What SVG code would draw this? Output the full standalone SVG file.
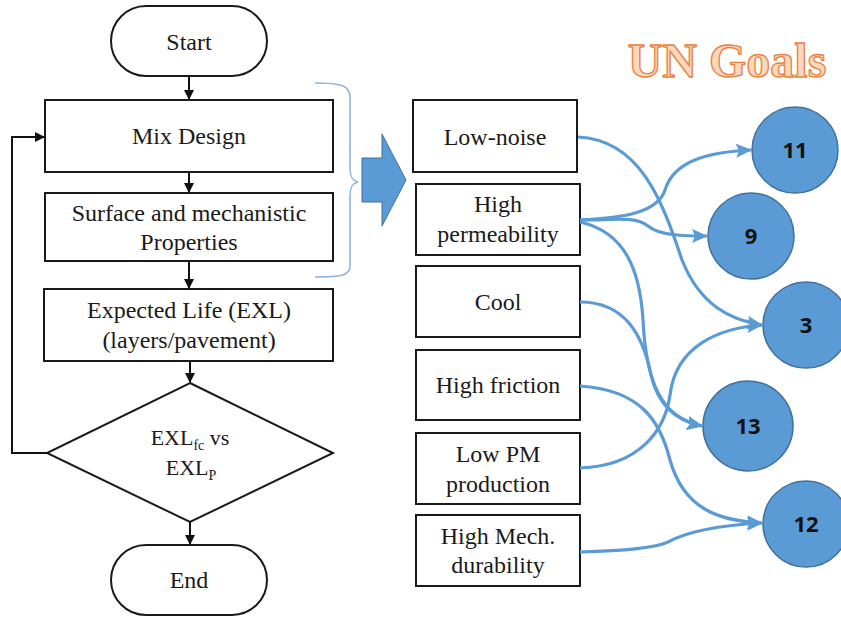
<svg xmlns="http://www.w3.org/2000/svg" width="841" height="617" viewBox="0 0 841 617">
<defs>
<style>
.box{fill:#fff;stroke:#1a1a1a;stroke-width:2}
.t{font-size:24px;fill:#1a1a1a;text-anchor:middle}
.d{font-size:22px;fill:#1a1a1a;text-anchor:middle}
.flow{fill:none;stroke:#111;stroke-width:2}
.blue{fill:none;stroke:#5b9bd5;stroke-width:3.2}
.goal{fill:#5b9bd5;stroke:#41719c;stroke-width:1.5}
.gt{font-weight:bold;font-size:22px;fill:#111;text-anchor:middle}
</style>
<marker id="ab" markerWidth="10" markerHeight="10" refX="9" refY="5" orient="auto" markerUnits="userSpaceOnUse">
<path d="M0,0 L10,5 L0,10 z" fill="#111"/>
</marker>
<marker id="bb" markerWidth="16" markerHeight="14" refX="15" refY="7" orient="auto" markerUnits="userSpaceOnUse">
<path d="M0,0 L16,7 L0,14 L3,7 z" fill="#5b9bd5"/>
</marker>
</defs>
<rect width="841" height="617" fill="#fff"/>

<g font-family="Liberation Serif, Times New Roman, serif">
<g id="start"><rect class="box" x="111" y="6" width="156" height="70" rx="35"/><text class="t" x="189" y="50">Start</text></g>
<g id="mix"><rect class="box" x="45" y="100" width="288" height="72"/><text class="t" x="189" y="144">Mix Design</text></g>
<g id="surface"><rect class="box" x="45" y="193" width="288" height="68"/><text class="t" x="189" y="221">Surface and mechanistic</text><text class="t" x="189" y="250">Properties</text></g>
<g id="exl"><rect class="box" x="44" y="289" width="289" height="72"/><text class="t" x="189" y="318">Expected Life (EXL)</text><text class="t" x="189" y="348">(layers/pavement)</text></g>
<g id="decision"><polygon class="box" points="190,383 333,453 190,522 47,453"/>
<text class="d" x="190" y="445"><tspan>EXL</tspan><tspan font-size="14" dy="5">fc</tspan><tspan dy="-5"> vs</tspan></text>
<text class="d" x="191" y="475"><tspan>EXL</tspan><tspan font-size="14" dy="5">P</tspan></text></g>
<g id="end"><rect class="box" x="111" y="545" width="156" height="70" rx="35"/><text class="t" x="189" y="588">End</text></g>

<g id="lownoise"><rect class="box" x="413" y="100" width="164" height="72"/><text class="t" x="495" y="145">Low-noise</text></g>
<g id="highperm"><rect class="box" x="416" y="184" width="164" height="71"/><text class="t" x="498" y="212">High</text><text class="t" x="498" y="242">permeability</text></g>
<g id="cool"><rect class="box" x="416" y="266" width="164" height="71"/><text class="t" x="498" y="310">Cool</text></g>
<g id="highfric"><rect class="box" x="416" y="350" width="164" height="70"/><text class="t" x="498" y="393">High friction</text></g>
<g id="lowpm"><rect class="box" x="416" y="433" width="164" height="71"/><text class="t" x="498" y="462">Low PM</text><text class="t" x="498" y="492">production</text></g>
<g id="highmech"><rect class="box" x="416" y="515" width="164" height="71"/><text class="t" x="498" y="544">High Mech.</text><text class="t" x="498" y="573">durability</text></g>

<g id="title"><text x="727" y="77" font-weight="bold" font-size="48" text-anchor="middle" fill="#fbd7bd" stroke="#e8823e" stroke-width="1.3">UN Goals</text></g>
</g>

<g id="flow-connectors">
<line class="flow" x1="189" y1="77" x2="189" y2="99" marker-end="url(#ab)"/>
<line class="flow" x1="189" y1="172" x2="189" y2="192" marker-end="url(#ab)"/>
<line class="flow" x1="189" y1="261" x2="189" y2="288" marker-end="url(#ab)"/>
<line class="flow" x1="190" y1="361" x2="190" y2="382" marker-end="url(#ab)"/>
<line class="flow" x1="190" y1="522" x2="190" y2="544" marker-end="url(#ab)"/>
<polyline class="flow" points="47,453 12,453 12,137 44,137" marker-end="url(#ab)"/>
</g>

<g id="bracket"><path d="M315,83 C340,83 350,85 350,97 L350,168 C350,178 353,181 358,182 C353,183 350,186 350,196 L350,266 C350,276 340,277 315,277" fill="none" stroke="#8fb4dd" stroke-width="1.6"/></g>
<g id="big-arrow"><polygon points="362,158 382,158 382,134 406,180 382,226 382,202 362,202" fill="#5b9bd5" stroke="#41719c" stroke-width="1"/></g>

<g font-family="Open Sans, Liberation Sans, sans-serif">
<g id="g11"><circle class="goal" cx="795" cy="150" r="43"/><text class="gt" x="795" y="158">11</text></g>
<g id="g9"><circle class="goal" cx="751" cy="236" r="43"/><text class="gt" x="751" y="244">9</text></g>
<g id="g3"><circle class="goal" cx="806" cy="325" r="43"/><text class="gt" x="806" y="333">3</text></g>
<g id="g13"><circle class="goal" cx="748" cy="426" r="45"/><text class="gt" x="748" y="434">13</text></g>
<g id="g12"><circle class="goal" cx="806" cy="524" r="43"/><text class="gt" x="806" y="532">12</text></g>
</g>

<g id="goal-connectors">
<path class="blue" d="M578,137 C640,140 662,200 682,260 C700,305 730,320 762,325" marker-end="url(#bb)"/>
<path class="blue" d="M580,220 C625,218 658,212 665,190 C674,160 710,152 751,150" marker-end="url(#bb)"/>
<path class="blue" d="M580,220 C615,220 635,216 648,226 C660,236 685,236 707,236" marker-end="url(#bb)"/>
<path class="blue" d="M580,222 C625,232 640,270 643,320 C646,380 660,418 702,426" marker-end="url(#bb)"/>
<path class="blue" d="M580,302 C625,302 643,335 651,375 C658,405 675,420 702,426" marker-end="url(#bb)"/>
<path class="blue" d="M580,468 C640,466 665,430 670,395 C676,345 720,328 762,325" marker-end="url(#bb)"/>
<path class="blue" d="M580,386 C640,390 660,420 670,460 C684,510 720,521 762,523" marker-end="url(#bb)"/>
<path class="blue" d="M580,552 C620,551 655,548 668,542 C690,530 725,525 762,523" marker-end="url(#bb)"/>
</g>
</svg>
